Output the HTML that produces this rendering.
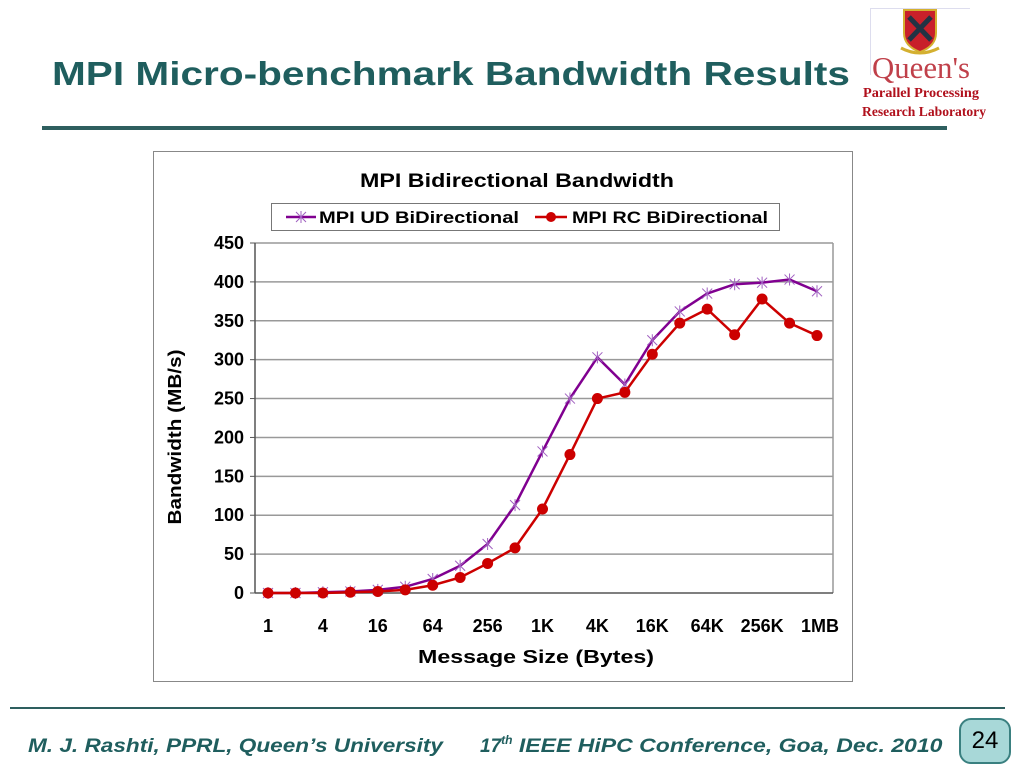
<!DOCTYPE html>
<html><head><meta charset="utf-8"><style>
html,body{margin:0;padding:0;background:#fff;}
body{width:1024px;height:768px;position:relative;overflow:hidden;font-family:"Liberation Sans",sans-serif;}
.abs{position:absolute;}
</style></head><body>
<svg class="abs" style="left:0;top:0" width="1024" height="768">
 <text x="52" y="85" font-size="33" font-weight="bold" fill="#1f5e5e" font-family="Liberation Sans" textLength="798" lengthAdjust="spacingAndGlyphs">MPI Micro-benchmark Bandwidth Results</text>
 <rect x="42" y="126" width="905" height="4" fill="#2e5f5f"/>
 <g>
  <path d="M870.5 75 V8.5 H970" stroke="#dde" fill="none"/>
  <path d="M904 10 H936 V33 Q936 46 920 52 Q904 46 904 33 Z" fill="#c8202a" stroke="#d4b030" stroke-width="2"/>
  <path d="M909 17 L931 40 M931 17 L909 40" stroke="#234" stroke-width="5"/>
  <path d="M901 48 Q920 58 939 48" stroke="#d4b030" stroke-width="3" fill="none"/>
  <text x="872" y="78" font-family="Liberation Serif" font-size="31" fill="#c0404a" textLength="98" lengthAdjust="spacingAndGlyphs">Queen's</text>
 </g>
 <text x="921" y="97" text-anchor="middle" font-family="Liberation Serif" font-weight="bold" font-size="14" fill="#b0101c" textLength="116" lengthAdjust="spacingAndGlyphs">Parallel Processing</text>
 <text x="924" y="116" text-anchor="middle" font-family="Liberation Serif" font-weight="bold" font-size="14" fill="#b0101c" textLength="124" lengthAdjust="spacingAndGlyphs">Research Laboratory</text>

 <g>
 <rect x="153.5" y="151.5" width="699" height="530" fill="#fff" stroke="#888"/>
 <text x="360" y="187" font-size="19" font-weight="bold" font-family="Liberation Sans" textLength="314" lengthAdjust="spacingAndGlyphs">MPI Bidirectional Bandwidth</text>
 <g id="legend">
  <rect x="271.5" y="203.5" width="508" height="27" fill="#fff" stroke="#777"/>
  <line x1="286" y1="217" x2="316" y2="217" stroke="#800090" stroke-width="2.5"/>
  <path d="M296 212 L306 222 M306 212 L296 222 M301 211 V223" stroke="#a060c0" stroke-width="1"/>
  <text x="319" y="223" font-size="17" font-weight="bold" font-family="Liberation Sans" textLength="200" lengthAdjust="spacingAndGlyphs">MPI UD BiDirectional</text>
  <line x1="535" y1="217" x2="567" y2="217" stroke="#cc0000" stroke-width="2.5"/>
  <circle cx="551" cy="217" r="5" fill="#cc0000"/>
  <text x="572" y="223" font-size="17" font-weight="bold" font-family="Liberation Sans" textLength="196" lengthAdjust="spacingAndGlyphs">MPI RC BiDirectional</text>
 </g>
 <g id="grid"></g>
 <g id="series"></g>
 <text transform="translate(181,437) rotate(-90)" text-anchor="middle" font-size="18" font-weight="bold" font-family="Liberation Sans" textLength="175" lengthAdjust="spacingAndGlyphs">Bandwidth (MB/s)</text>
 <text x="536" y="663" text-anchor="middle" font-size="18" font-weight="bold" font-family="Liberation Sans" textLength="236" lengthAdjust="spacingAndGlyphs">Message Size (Bytes)</text>
 </g>

 <rect x="10" y="707" width="995" height="2" fill="#2e5f5f"/>
 <text x="28" y="752" font-size="19" font-weight="bold" font-style="italic" fill="#1f5e5e" font-family="Liberation Sans" textLength="415" lengthAdjust="spacingAndGlyphs">M. J. Rashti, PPRL, Queen’s University</text>
 <text x="480" y="752" font-size="19" font-weight="bold" font-style="italic" fill="#1f5e5e" font-family="Liberation Sans">17<tspan font-size="12" dy="-8">th</tspan><tspan dy="8" textLength="430" lengthAdjust="spacingAndGlyphs"> IEEE HiPC Conference, Goa, Dec. 2010</tspan></text>
</svg>
<div class="abs" style="left:959px;top:718px;width:52px;height:46px;border-radius:12px;background:#a8d8d8;border:2px solid #3a8080;box-sizing:border-box;text-align:center;font-size:24px;line-height:42px;color:#000;">24</div>

<script>
const categories=["1","2","4","8","16","32","64","128","256","512","1K","2K","4K","8K","16K","32K","64K","128K","256K","512K","1MB"];
const udValues=[0,0,1,2,4,8,18,35,63,113,182,250,303,268,325,362,385,397,399,403,388];
const rcValues=[0,0,0,1,2,4,10,20,38,58,108,178,250,258,307,347,365,332,378,347,331];
const yTicks=[0,50,100,150,200,250,300,350,400,450];
const NS="http://www.w3.org/2000/svg";
const x0=268,dx=27.45,yBase=593,yTop=243,yMax=450;
const xs=i=>x0+i*dx;
const ys=v=>yBase-(v/yMax)*(yBase-yTop);
function mk(tag,attrs,parent){const e=document.createElementNS(NS,tag);for(const k in attrs)e.setAttribute(k,attrs[k]);parent.appendChild(e);return e;}
const grid=document.getElementById('grid');
yTicks.forEach(t=>{
 const y=ys(t);
 if(t>0){const l=mk('line',{x1:255,x2:833,y1:y,y2:y,stroke:'#999','stroke-width':1.5},grid);
 
 }
 mk('line',{x1:250,x2:255,y1:y,y2:y,stroke:'#555'},grid);
 const tx=mk('text',{x:244,y:y+6,'text-anchor':'end','font-size':18,'font-weight':'bold','font-family':'Liberation Sans'},grid);
 tx.textContent=t;
 
 
});
mk('line',{x1:833,x2:833,y1:yTop,y2:yBase,stroke:'#999','stroke-width':1.5},grid);
mk('line',{x1:255,x2:255,y1:yTop,y2:yBase,stroke:'#555','stroke-width':1.5},grid);
mk('line',{x1:255,x2:833,y1:yBase,y2:yBase,stroke:'#555','stroke-width':1.5},grid);
categories.forEach((c,i)=>{
 if(i%2===0){
  const tx=mk('text',{x:xs(i)+(i===20?3:0),y:632,'text-anchor':'middle','font-size':18,'font-weight':'bold','font-family':'Liberation Sans'},grid);
  tx.textContent=c;
  
  
 }
});
const s=document.getElementById('series');
const ud=mk('polyline',{points:udValues.map((v,i)=>xs(i)+','+ys(v)).join(' '),fill:'none',stroke:'#800090','stroke-width':2.5},s);


udValues.forEach((v,i)=>{
 const x=xs(i),y=ys(v);
 const m=mk('path',{d:`M${x-5} ${y-5}L${x+5} ${y+5}M${x+5} ${y-5}L${x-5} ${y+5}M${x} ${y-6}V${y+6}`,stroke:'#a060c0','stroke-width':1},s);
 
 
});
const rc=mk('polyline',{points:rcValues.map((v,i)=>xs(i)+','+ys(v)).join(' '),fill:'none',stroke:'#cc0000','stroke-width':2.5},s);


rcValues.forEach((v,i)=>{
 const c=mk('circle',{cx:xs(i),cy:ys(v),r:5.5,fill:'#cc0000'},s);
 
 
});
</script>
</body></html>
